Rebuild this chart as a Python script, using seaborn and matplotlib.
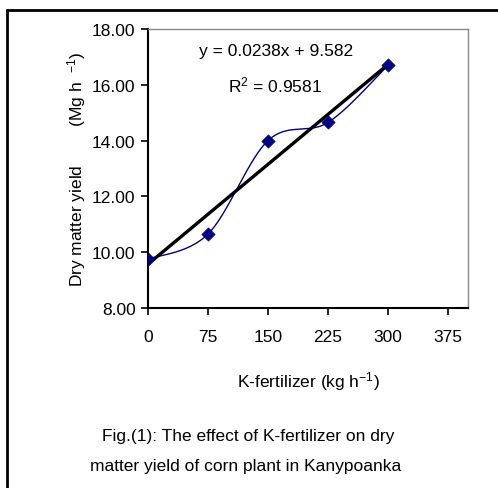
import numpy as np
import pandas as pd
import matplotlib
matplotlib.use("Agg")
import matplotlib.pyplot as plt
from matplotlib.lines import Line2D
import seaborn as sns

# data
k_rate = [0, 75, 150, 225, 300]
dry_matter = [9.75, 10.65, 14.0, 14.65, 16.7]
x_ticks = [0, 75, 150, 225, 300, 375]
y_ticks = [8, 10, 12, 14, 16, 18]

df = pd.DataFrame({"k": k_rate, "dm": dry_matter})

sns.set_style("white")
plt.rcParams["font.family"] = ["Liberation Sans", "DejaVu Sans"]
plt.rcParams["mathtext.fontset"] = "custom"
plt.rcParams["mathtext.rm"] = "Liberation Sans"
plt.rcParams["mathtext.it"] = "Liberation Sans"
plt.rcParams["text.color"] = "black"
plt.rcParams["axes.labelcolor"] = "black"
plt.rcParams["xtick.color"] = "black"
plt.rcParams["ytick.color"] = "black"

fig = plt.figure(figsize=(4.98, 4.89), dpi=100)
ax = fig.add_axes([0.2972, 0.3681, 0.6426, 0.5706])


# excel-style smoothed line (bezier through the points)
def smooth(xs, ys, n=40):
    p = np.column_stack([xs, ys]).astype(float)
    pts = np.vstack([p[0], p, p[-1]])
    out = []
    t = np.linspace(0, 1, n)[:, None]
    for i in range(1, len(pts) - 2):
        p0, p1, p2, p3 = pts[i - 1], pts[i], pts[i + 1], pts[i + 2]
        c1 = p1 + (p2 - p0) / 6
        c2 = p2 - (p3 - p1) / 6
        seg = ((1 - t) ** 3) * p1 + 3 * ((1 - t) ** 2) * t * c1 + 3 * (1 - t) * t ** 2 * c2 + t ** 3 * p2
        out.append(seg)
    c = np.vstack(out)
    return c[:, 0], c[:, 1]


sx, sy = smooth(df["k"], df["dm"])
ax.plot(sx, sy, color="#000080", lw=1)
sns.regplot(data=df, x="k", y="dm", ci=None, scatter=False, truncate=True,
            color="black", line_kws={"lw": 2.4}, ax=ax)
sns.scatterplot(data=df, x="k", y="dm", marker="D", s=45, color="#000080",
                edgecolor="#000080", zorder=5, ax=ax)

ax.set_xlim(0, 400)
ax.set_ylim(8, 18)
ax.set_xticks(x_ticks)
ax.set_yticks(y_ticks)
ax.set_xticklabels([str(v) for v in x_ticks], fontsize=12.5)
ax.set_yticklabels([f"{v:.2f}" for v in y_ticks], fontsize=12.5)
ax.tick_params(axis="both", direction="out", length=5, width=1.2, color="black",
               left=True, bottom=True, pad=4)
ax.tick_params(axis="x", pad=10)

for s in ["left", "bottom"]:
    ax.spines[s].set_color("black")
    ax.spines[s].set_linewidth(1.5)
for s in ["top", "right"]:
    ax.spines[s].set_color("#888888")
    ax.spines[s].set_linewidth(1)

ax.set_xlabel("K-fertilizer (kg h$^{-1}$)", fontsize=12.5, labelpad=18)
ax.set_ylabel("Dry matter yield        (Mg h  $^{-1}$)", fontsize=12.5, labelpad=3)

ax.text(0.40, 0.922, "y = 0.0238x + 9.582", transform=ax.transAxes,
        ha="center", va="center", fontsize=12.5)
ax.text(0.396, 0.80, "R$^{2}$ = 0.9581", transform=ax.transAxes,
        ha="center", va="center", fontsize=12.5)

fig.text(0.498, 1 - 437 / 489, "Fig.(1): The effect of K-fertilizer on dry",
         ha="center", va="center", fontsize=12.5)
fig.text(0.494, 1 - 467 / 489, "matter yield of corn plant in Kanypoanka",
         ha="center", va="center", fontsize=12.5)

# outer frame
fig.add_artist(Line2D([7 / 498, 7 / 498], [0, 1 - 11 / 489], color="black", lw=2))
fig.add_artist(Line2D([7 / 498, 1], [1 - 11 / 489, 1 - 11 / 489], color="black", lw=2))

fig.savefig("out.png", dpi=100)
